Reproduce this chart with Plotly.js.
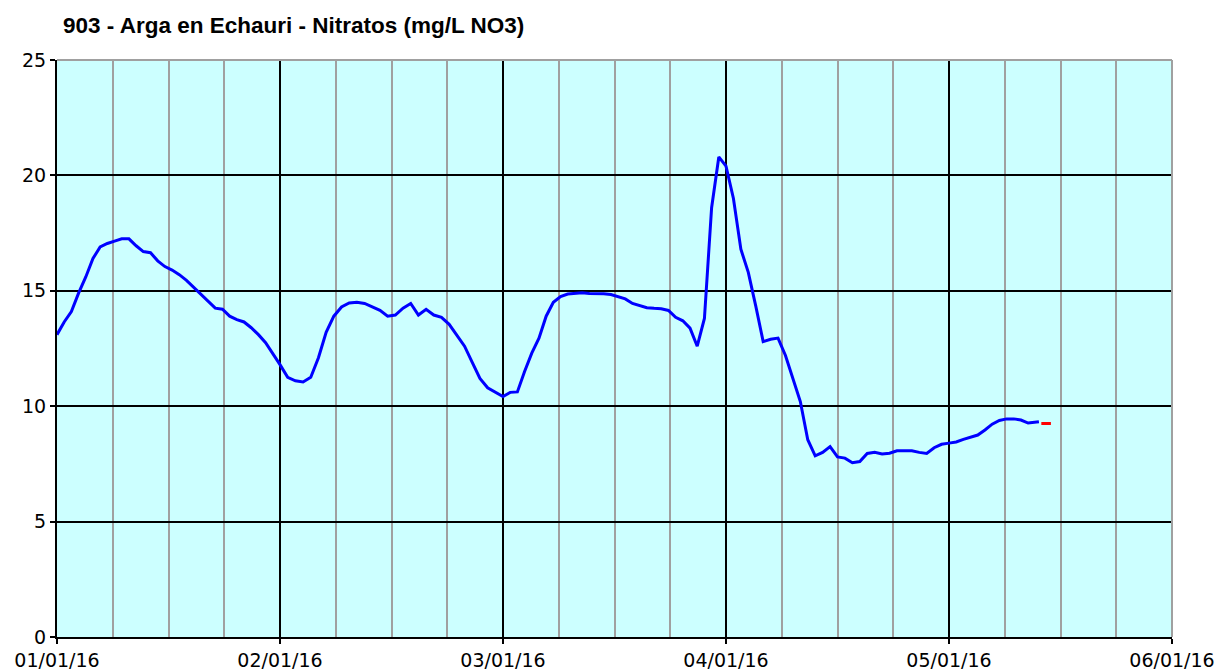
<!DOCTYPE html>
<html>
<head>
<meta charset="utf-8">
<script src="https://cdn.plot.ly/plotly-3.0.1.min.js"></script>
<style>
  html, body { margin: 0; padding: 0; background: #ffffff; }
  #chart { width: 1219px; height: 671px; }
</style>
</head>
<body>
<div id="chart"></div>
<script>
// ---- Data ----
const chartTitle = "903 - Arga en Echauri - Nitratos (mg/L NO3)";

const monthTickLabels = ["01/01/16", "02/01/16", "03/01/16", "04/01/16", "05/01/16", "06/01/16"];

const janValues = [13.1, 13.65, 14.1, 14.9, 15.6, 16.4, 16.9, 17.05, 17.15, 17.25, 17.25, 16.95, 16.7, 16.65, 16.3, 16.05, 15.9, 15.7, 15.45, 15.15, 14.85, 14.55, 14.25, 14.2, 13.9, 13.75, 13.65, 13.4, 13.1, 12.75, 12.3];
const febValues = [11.8, 11.25, 11.1, 11.05, 11.25, 12.1, 13.2, 13.9, 14.3, 14.47, 14.5, 14.45, 14.3, 14.15, 13.9, 13.95, 14.25, 14.45, 13.95, 14.2, 13.95, 13.85, 13.55, 13.1, 12.6, 11.9, 11.2, 10.8, 10.6];
const marValues = [10.42, 10.6, 10.62, 11.5, 12.3, 12.95, 13.9, 14.5, 14.75, 14.86, 14.88, 14.92, 14.88, 14.88, 14.87, 14.84, 14.75, 14.65, 14.45, 14.35, 14.27, 14.24, 14.22, 14.15, 13.85, 13.7, 13.38, 12.6, 13.8, 18.6, 20.8];
const aprValues = [20.4, 19.0, 16.8, 15.8, 14.35, 12.8, 12.9, 12.95, 12.2, 11.25, 10.2, 8.55, 7.85, 8.0, 8.25, 7.8, 7.75, 7.55, 7.6, 7.95, 8.0, 7.93, 7.96, 8.07, 8.07, 8.07, 8.0, 7.95, 8.2, 8.35];
const mayValues = [8.4, 8.45, 8.56, 8.67, 8.75, 8.97, 9.22, 9.38, 9.45, 9.45, 9.4, 9.27, 9.3, 9.33];

const redDates = ["2016-05-13 20:00", "2016-05-15 04:00"];
const redValues = [9.25, 9.25];

// ---- Build daily date list for the blue series ----
const monthSeries = [
  { month: 1, vals: janValues },
  { month: 2, vals: febValues },
  { month: 3, vals: marValues },
  { month: 4, vals: aprValues },
  { month: 5, vals: mayValues }
];
const blueDates = [];
const blueValues = [];
monthSeries.forEach(m => {
  m.vals.forEach((v, i) => {
    const mm = String(m.month).padStart(2, "0");
    let dd = String(i + 1).padStart(2, "0");
    // last May reading was taken mid-day
    const isLast = (m.month === 5 && i === m.vals.length - 1);
    blueDates.push("2016-" + mm + "-" + (isLast ? "13 12:00" : dd));
    blueValues.push(v);
  });
});

// Month-based axis position (each month occupies equal width, as in the reference)
function monthPos(dateStr) {
  const [datePart, timePart] = dateStr.split(" ");
  const [y, m, d] = datePart.split("-").map(Number);
  let hours = 0;
  if (timePart) {
    const [hh, mi] = timePart.split(":").map(Number);
    hours = hh + mi / 60;
  }
  const daysInMonth = new Date(y, m, 0).getDate();
  return (m - 1) + (d - 1 + hours / 24) / daysInMonth;
}

const blueX = blueDates.map(monthPos);
const redX = redDates.map(monthPos);

const traces = [
  {
    x: blueX, y: blueValues, text: blueDates,
    type: "scatter", mode: "lines",
    line: { color: "#0000FF", width: 3 },
    hoverinfo: "text+y", showlegend: false
  },
  {
    x: redX, y: redValues, text: redDates,
    type: "scatter", mode: "lines",
    line: { color: "#FF0000", width: 3 },
    hoverinfo: "text+y", showlegend: false
  }
];

const layout = {
  width: 1219, height: 671,
  margin: { l: 57, r: 47, t: 60, b: 34, pad: 0 },
  paper_bgcolor: "#FFFFFF",
  plot_bgcolor: "#CCFFFF",
  showlegend: false,
  title: {
    text: chartTitle,
    font: { family: "Liberation Sans, Arial, sans-serif", size: 22.5, weight: 700, color: "#000000" },
    xref: "container", x: 63 / 1219, xanchor: "left",
    yref: "container", y: 1 - 25 / 671, yanchor: "middle"
  },
  xaxis: {
    type: "linear",
    range: [0, 5],
    tickmode: "array",
    tickvals: [0, 1, 2, 3, 4, 5],
    ticktext: monthTickLabels,
    tickfont: { family: "DejaVu Sans, Verdana, sans-serif", size: 19, color: "#000000" },
    ticks: "outside", ticklen: 5, tickwidth: 2, tickcolor: "#000000",
    showgrid: true, gridcolor: "#000000", gridwidth: 2,
    minor: { dtick: 0.25, tick0: 0, showgrid: true, gridcolor: "#A0A0A0", gridwidth: 2, ticks: "" },
    showline: true, linecolor: "#000000", linewidth: 2,
    zeroline: false, fixedrange: true
  },
  yaxis: {
    range: [0, 25],
    tickmode: "linear", tick0: 0, dtick: 5,
    tickfont: { family: "DejaVu Sans, Verdana, sans-serif", size: 19, color: "#000000" },
    ticks: "outside", ticklen: 5, tickwidth: 2, tickcolor: "#000000",
    showgrid: true, gridcolor: "#000000", gridwidth: 2,
    showline: true, linecolor: "#000000", linewidth: 2,
    zeroline: false, fixedrange: true
  },
  shapes: [
    { type: "line", xref: "paper", yref: "paper", x0: 0, x1: 1, y0: 1, y1: 1,
      line: { color: "#A0A0A0", width: 2 }, layer: "above" },
    { type: "line", xref: "paper", yref: "paper", x0: 1, x1: 1, y0: 0, y1: 1,
      line: { color: "#A0A0A0", width: 2 }, layer: "above" }
  ]
};

Plotly.newPlot("chart", traces, layout, { displayModeBar: false, staticPlot: true });
</script>
</body>
</html>
